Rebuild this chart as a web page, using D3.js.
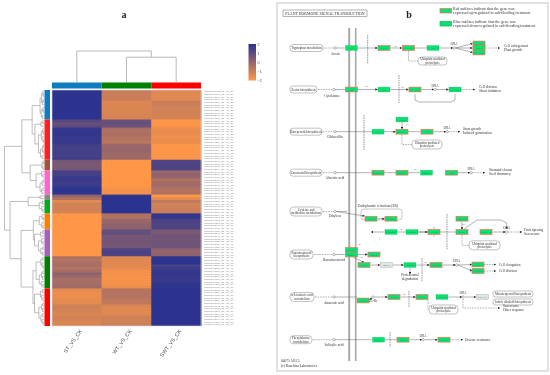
<!DOCTYPE html>
<html>
<head>
<meta charset="utf-8">
<script src="https://cdn.jsdelivr.net/npm/d3@7"></script>
<style>
  html, body { margin: 0; padding: 0; background: #fff; }
  svg { display: block; filter: blur(0.4px); }
</style>
</head>
<body>
<div class="canvas"></div>
<script>
const canvas = d3.select(".canvas");
const svg = canvas.append("svg").attr("width", 550).attr("height", 375);

// ---- panel a: heatmap data ----
const columns = ["ST_VS_CK", "WT_VS_CK", "SWT_VS_CK"];
const columnColors = ["#0e7dc0", "#008000", "#ff0000"];

const stValues = [
  1.95, 1.95, 1.95, 1.95, 1.95, 1.95, 1.95, 1.95, 1.95, 1.95, 1.95,
  1.15, 0.85, 1.0, 1.8, 1.85, 1.85, 1.8, 1.75, 1.8, 1.55, 1.5, 1.5, 1.55, 1.5, 1.6,
  0.6, 0.5, 0.5, 0.6,
  1.5, 1.45, 1.7, 1.75, 1.6, 1.65, 1.9, 1.95, 1.9,
  0.0, -0.5,
  -1.5, -1.1, -1.2, -1.15, -1.2,
  -2, -2, -2, -2, -2, -2,
  -2, -2, -2, -2, -2, -2, -2, -2, -2, -2,
  -0.5, -0.6, -0.4, -0.4, -0.6, -0.3, 0.1, -0.1, -0.4, -0.3, -0.3, -0.2,
  -1.5, -1.6, -1.6, -1.6, -1.5, -1.5, -1.1, -1.1, -1.2, -1.3, -1.2, -1.2, -1.3, -1.3,
];
const wtValues = [
  -0.95, -1, -1, -1, -1.35, -1.35, -1.3, -1.3, -1.3, -1.25, -1.25,
  0.8, 0.85, 0.75, -0.4, -0.5, -0.4, -0.55, -0.6, -0.7, -0.1, -0.1, -0.05, -0.15, -0.2, -0.15,
  -2, -2, -2, -2,
  -2, -2, -2, -2, -2, -2, -1.85, -1.8, -1.8,
  1.9, 1.95,
  2, 2, 2, 2, 2,
  -0.5, -0.55, -0.1, 0, 0.1, 0.1,
  0.9, 0.9, 0.6, 0.6, 0.65, 0.65, 0.6, 1.3, 1.4, 1.3,
  -1.4, -1.4, -1.4, -1.45, -1.5, -1.8, -1.8, -1.85, -1.85, -1.8, -1.8, -1.6,
  -0.6, -0.6, -0.6, -0.65, -0.8, -0.8, -1.3, -1.4, -1.4, -1.4, -1.1, -1.1, -1.1, -1.05,
];
const swtValues = [
  -1.4, -1.4, -1.4, -1.4, -1, -1, -1.15, -1.15, -1.15, -1.2, -1.2,
  -1.95, -1.95, -1.9, -1.65, -1.6, -1.6, -1.7, -1.6, -1.6, -1.95, -1.95, -1.95, -1.9, -1.9, -1.95,
  1.3, 1.35, 1.35, 1.3,
  -0.1, 0.1, 0.0, -0.5, -0.3, -0.2, -0.5, -0.55, -0.5,
  -1.95, -1.5,
  -0.8, -1.1, -1.1, -1.05, -1.0,
  1.85, 1.85, 1.4, 1.35, 1.3, 1.3,
  0.5, 0.5, 0.7, 0.65, 0.7, 0.7, 0.75, 0.1, 0.0, 0.1,
  1.95, 1.95, 1.95, 1.5, 1.65, 1.8, 1.8, 1.8, 1.75, 1.8, 1.9, 1.9,
  1.95, 1.95, 1.95, 1.95, 1.95, 1.95, 1.95, 1.95, 1.95, 1.95, 1.95, 1.95, 1.95, 1.95,
];

const clusterSizes = [11, 15, 4, 9, 2, 5, 6, 10, 12, 14];
const clusterColors = ["#0e7dc0", "#ff2020", "#a0523d", "#ff66cc", "#888888", "#00aa1f", "#ff8000", "#a560c0", "#007f00", "#ff0000"];

const rowIds = ("10432 21877 03391 18264 27750 05123 14698 30215 08846 22910 16573 " +
  "29034 07715 12486 25391 01958 19620 33047 06282 11739 24168 28503 09374 15826 31290 04651 " +
  "20497 13082 26715 02364 17943 32158 07429 23601 10986 29477 05830 18312 12654 " +
  "26091 03947 21538 14270 30862 08195 16724 " +
  "27369 04516 19853 11207 32640 06978 " +
  "24015 13596 28741 01683 17320 22459 09138 31875 05264 15907 " +
  "20736 02849 26183 12370 33512 07056 18691 23924 10345 29608 04172 16458 " +
  "25783 08629 14031 30497 03216 21965 19142 27408 06597 11860 32073 13749 24306 09781").split(" ");

// height 0 is at the leaves, 100 is the root; 0 as a child is one row
const treeBlue = [10, [6, [3, 0, [2, 0, 0]], [4, [2, 0, 0], 0]], [7, [3, 0, [2, 0, 0]], [4, 0, 0]]];
const treeRed = [23, [8, [3, 0, 0], 0], [14, [7, [3, 0, [2, 0, 0]], [5, 0, [2, 0, 0]]], [9, [4, [2, 0, 0], [2, 0, 0]], [5, 0, 0]]]];
const treeBrown = [5, [2, 0, 0], [3, 0, 0]];
const treePink = [20, [6, 0, [3, 0, 0]], [10, [5, [2, 0, 0], 0], [6, [3, 0, 0], 0]]];
const treeGray = [10, 0, 0];
const treeGreen = [12, [4, 0, 0], [6, 0, [3, 0, 0]]];
const treeOrange = [12, [5, 0, [2, 0, 0]], [6, 0, [3, 0, 0]]];
const treePurple = [24, [9, [3, 0, 0], 0], [14, [6, 0, [3, 0, 0]], [8, [3, 0, 0], [4, 0, 0]]]];
const treeDarkGreen = [20, [8, [3, 0, 0], [5, 0, [2, 0, 0]]], [12, [6, [3, 0, 0], [4, 0, 0]], [7, 0, [3, 0, 0]]]];
const treeRed2 = [24, [9, [4, 0, 0], [6, 0, [3, 0, 0]]], [13, [6, [3, 0, 0], [4, 0, 0]], [8, [4, 0, 0], [5, 0, [2, 0, 0]]]]];

const rowTree = [100,
  [56, [30, treeBlue, treeRed], [35, treeBrown, treePink]],
  [86, [40, treeGray, treeGreen], [58, [27, treeOrange, treePurple], [28, treeDarkGreen, treeRed2]]],
];
// 0 = ST, 1 = WT, 2 = SWT
const columnTree = [100, 0, [80, 1, 2]];

const legendTicks = [2, 1, 0, -1, -2];

// ---- panel b: pathway data, all in map units ----
const geneNames = ["AUX1", "TIR1", "AUX/IAA", "ARF", "AUX/IAA", "GH3", "SAUR",
  "CRE1", "AHP", "B-ARR", "A-ARR",
  "GID2", "GID1", "DELLA", "TF",
  "PYR/PYL", "PP2C", "SnRK2", "ABF",
  "ETR", "CTR1", "SIMKK", "MPK6", "EIN2", "EBF1/2", "EIN3", "ERF1/2",
  "BAK1", "BRI1", "BKI1", "BSK", "BSU1", "BIN2", "BZR1/2", "TCH4", "CYCD3",
  "JAR1", "COI1", "JAZ", "MYC2", "ORCA3",
  "NPR1", "TGA", "PR-1"];
const geneX = [74.5, 107, 131.5, 156, 202, 202, 202,
  74.5, 107, 138, 178,
  125, 101, 125, 150,
  101, 125, 149.5, 174.5,
  94, 114, 114, 135, 157, 185, 185, 209,
  74.5, 74.5, 97, 87, 109.5, 133, 159, 201, 201,
  86, 117, 145, 165, 205.5,
  101.5, 126, 167];
const geneY = [45, 45, 45, 45, 40.5, 45, 49.5,
  86.5, 86.5, 86.5, 86.5,
  116.5, 128.7, 128.7, 128.7,
  169.7, 169.7, 169.7, 169.7,
  215.7, 215.7, 229, 229, 229, 215.7, 229, 229,
  247, 251.5, 251.5, 262, 262, 262, 262, 261.5, 268,
  297.5, 294, 294, 294, 294,
  336.7, 336.7, 336.7];
// 1 red outline, 0 plain green, -1 not in the data (white)
const geneState = [0, 1, 1, 0, 1, 1, 1,
  1, 0, 1, 0,
  0, 0, 1, 1,
  1, 1, 0, 1,
  1, 1, 0, 0, 1, 1, 1, 1,
  1, 1, 1, 1, -1, 0, 1, 1, 1,
  1, 1, 1, 0, -1,
  0, 1, 1];

const pillLines = [["Tryptophan metabolism"], ["Zeatin biosynthesis"], ["Diterpenoid biosynthesis"], ["Carotenoid biosynthesis"],
  ["Cysteine and", "methionine metabolism"], ["Brassinosteroid", "biosynthesis"], ["\u03b1-Linolenic acid", "metabolism"], ["Phenylalanine", "metabolism"],
  ["Ubiquitin mediated", "proteolysis"], ["Ubiquitin mediated", "proteolysis"], ["Ubiquitin mediated", "proteolysis"], ["Ubiquitin mediated", "proteolysis"],
  ["Monoterpenoid biosynthesis"], ["Indole alkaloid biosynthesis"]];
const pillLeft = [13, 13, 13, 13, 13, 13, 13, 13, 141, 135, 192, 152, 216, 216];
const pillRight = [45.7, 40, 45, 45, 45, 36, 37, 35, 170, 165, 223, 181, 256, 256];
const pillY = [45, 86.5, 128.7, 169.7, 208.5, 251.5, 294, 336.7, 58, 141.5, 242.3, 306.5, 291, 299];
const pillH = [7, 7, 7, 7, 9, 9, 9, 8, 8, 9, 9, 9, 6, 6];

const compoundX = [58, 57, 58, 58, 58, 57, 57, 57, 96];
const compoundY = [45, 86.5, 128.7, 169.7, 208.5, 251.5, 294, 336.7, 294];
const dnaX = [177, 158, 170, 194, 229.7, 179.7, 186, 146];
const dnaY = [45, 86.5, 128.7, 169.7, 229, 262, 294, 336.7];

const noteText = ["Auxin", "Cytokinine", "Gibberellin", "Abscisic acid", "Ethylene", "Brassinosteroid", "Jasmonic acid", "Salicylic acid",
  "JA-Ile", "Endoplasmic reticulum (ER)", "Proteasomal", "degradation",
  "Cell enlargement", "Plant growth", "Cell division", "Shoot initiation", "Stem growth", "Induced germination",
  "Stomatal closure", "Seed dormancy", "Fruit ripening", "Senescence", "Cell elongation", "Cell division",
  "Senescence", "Other response", "Disease resistance",
  "04075 5/6/15", "(c) Kanehisa Laboratories"];
const noteX = [58, 55, 58, 58, 58, 57, 57, 57, 96, 101, 133, 133,
  227, 227, 202, 202, 186, 186, 212, 212, 247, 247, 222, 222, 226, 226, 188, 4, 4];
const noteY = [52, 94, 135, 176, 214, 258, 301, 343, 299, 204, 273, 277,
  44, 48, 85, 89, 127, 131, 168, 172, 228, 232, 263, 269, 304, 308, 338, 359, 364];
const noteAnchor = ["middle", "middle", "middle", "middle", "middle", "middle", "middle", "middle", "middle", "middle", "middle", "middle",
  "start", "start", "start", "start", "start", "start", "start", "start", "start", "start", "start", "start", "start", "start", "start", "start", "start"];

const signX = [118, 89, 125, 130, 138, 124, 186, 82, 84, 148, 127];
const signY = [44, 84, 85, 122, 167, 227, 222, 242, 255, 260, 292];
const signText = ["+u", "+p", "+p", "+u", "+p", "+p", "+u", "+p", "+p", "+p", "+p"];

const barriers = [[[90.7, 32], [90.7, 61]], [[122, 72], [122, 100]], [[87, 112], [87, 147]], [[170, 211], [170, 247]],
  [[145, 255], [145, 279]], [[132, 288], [132, 304]], [[113, 329], [113, 344]], [[157, 224], [157, 234]]];

const dashedLinks = [[[46, 45], [58, 45]], [[41, 86.5], [57, 86.5]], [[46, 128.7], [58, 128.7]], [[46, 169.7], [58, 169.7]],
  [[46, 208.5], [58, 208.5]], [[37, 251.5], [57, 251.5]], [[38, 294], [57, 294]], [[36, 336.7], [57, 336.7]],
  [[131.5, 48], [131.5, 58], [141, 58]], [[125, 131.5], [125, 141.5], [135, 141.5]],
  [[185, 232], [185, 242.3], [192, 242.3]], [[151, 297], [151, 306.5], [152, 306.5]]];
const dashedArrows = [[[208, 45], [223, 45]], [[184, 86.5], [198, 86.5]], [[171, 128.7], [183, 128.7]],
  [[195, 169.7], [208, 169.7]], [[231, 229], [245, 229]], [[207, 261.5], [219, 261.5]], [[207, 268], [219, 268]],
  [[186, 296], [186, 305], [223, 305]], [[173, 336.7], [186, 336.7]]];
const solidLinks = [[[59, 45], [68, 45]], [[137, 45], [150, 45]], [[58, 86.5], [68, 86.5]], [[59, 128.7], [95, 128.7]],
  [[131, 128.7], [144, 128.7]], [[59, 169.7], [95, 169.7]], [[107, 169.7], [119, 169.7]], [[131, 169.7], [143, 169.7]],
  [[59, 208.5], [70, 208.5]], [[120, 229], [129, 229]], [[141, 229], [151, 229]], [[163, 229], [179, 229]],
  [[58, 251.5], [68, 251.5]], [[58, 294], [80, 294]], [[58, 336.7], [95, 336.7]], [[107, 336.7], [120, 336.7]],
  [[138, 91], [138, 97], [142, 99], [174, 99], [178, 97], [178, 91]], [[103, 236], [102, 236]]];
const solidArrows = [[[81, 45], [100.5, 45]], [[113.5, 45], [125, 45]], [[162, 45], [176, 45]],
  [[178.5, 45], [195.5, 40.5]], [[178.5, 45], [195.5, 45]], [[178.5, 45], [195.5, 49.5]],
  [[81, 86.5], [100.5, 86.5]], [[113.5, 86.5], [131.5, 86.5]], [[144.5, 86.5], [157, 86.5]], [[159, 86.5], [171.5, 86.5]],
  [[107, 128.7], [118.5, 128.7]], [[156.5, 128.7], [169, 128.7]], [[180.5, 169.7], [193, 169.7]],
  [[125, 119], [125, 126]], [[59, 208.5], [87.5, 213]], [[100.5, 215.7], [107.5, 215.7]],
  [[107.5, 229], [94, 229]], [[141.5, 229], [150.5, 229]], [[215.5, 229], [228.5, 229]],
  [[185, 218.5], [185, 226.5]], [[187, 226], [200, 217], [224, 217], [229.7, 220], [229.7, 226]],
  [[81, 251.5], [90.5, 251.5]], [[76, 254], [87, 259.5]], [[93.5, 262], [103, 262]], [[116, 262], [126.5, 262]],
  [[139.5, 262], [152.5, 262]], [[165.5, 262], [178.5, 262]], [[181, 262], [195, 261.5]], [[181, 262], [195, 268]],
  [[133, 264.5], [133, 271]], [[92, 297], [95, 295]], [[97.5, 294], [110.5, 294]], [[123.5, 294], [138.5, 294]],
  [[171.5, 294], [185, 294]], [[187.5, 294], [199, 294]], [[132.5, 336.7], [145, 336.7]], [[147.5, 336.7], [160.5, 336.7]]];

const membranes = [72.2, 78.7];

// ---- scales ----
const rowCount = stValues.length;
const xCol = d3.scaleBand().domain(d3.range(3)).range([52, 201]);
const yRow = d3.scaleBand().domain(d3.range(rowCount)).range([90, 326]);
const heat = d3.scaleLinear().domain([-2, 2]).range(["#ff9747", "#2a3390"]);
const treeX = d3.scaleLinear().domain([0, 100]).range([44, 4.5]);
const treeY = d3.scaleLinear().domain([0, 100]).range([82, 51]);
const mapX = d3.scaleLinear().domain([0, 271]).range([277, 548]);
const mapY = d3.scaleLinear().domain([0, 368]).range([3, 371]);
const mapLine = d3.line().x((d) => mapX(d[0])).y((d) => mapY(d[1]));

const serif = "'Liberation Serif', serif";
const sans = "'Liberation Sans', sans-serif";

svg.append("defs").append("marker")
  .attr("id", "tip")
  .attr("viewBox", "0 0 4 4")
  .attr("refX", 3.6).attr("refY", 2)
  .attr("markerWidth", 2.4).attr("markerHeight", 2.4)
  .attr("markerUnits", "userSpaceOnUse")
  .attr("orient", "auto")
  .append("path").attr("d", "M0,0L4,2L0,4Z").attr("fill", "#222");

const grad = svg.select("defs").append("linearGradient")
  .attr("id", "legendFill").attr("x1", 0).attr("x2", 0).attr("y1", 0).attr("y2", 1);
grad.selectAll("stop").data(legendTicks).enter().append("stop")
  .attr("offset", (d, i) => i / (legendTicks.length - 1))
  .attr("stop-color", (d) => heat(d));

// ---- panel a ----
const series = [stValues, wtValues, swtValues];
const cells = [];
series.forEach((vals, c) => vals.forEach((v, r) => cells.push({ c, r, v })));

const heatGroup = svg.append("g");
// cells overlap the next row a little so no white seams show
heatGroup.selectAll("rect.cell").data(cells).enter().append("rect")
  .attr("class", "cell")
  .attr("x", (d) => xCol(d.c))
  .attr("y", (d) => yRow(d.r))
  .attr("width", xCol.bandwidth() + (0.5))
  .attr("height", (d) => yRow.bandwidth() + (d.r < rowCount - 1 ? 1 : 0))
  .attr("fill", (d) => heat(d.v));

heatGroup.append("rect")
  .attr("x", 52).attr("y", 90).attr("width", 149).attr("height", 236)
  .attr("fill", "none").attr("stroke", "#d5d5e5").attr("stroke-width", 0.6);

// column colour bar
svg.selectAll("rect.colbar").data(columns).enter().append("rect")
  .attr("class", "colbar")
  .attr("x", (d, i) => xCol(i))
  .attr("y", 82.5)
  .attr("width", xCol.bandwidth())
  .attr("height", 6)
  .attr("fill", (d, i) => columnColors[i]);

// row cluster bar
let rowStart = 0;
clusterSizes.forEach((n, i) => {
  svg.append("rect")
    .attr("x", 44.5).attr("y", yRow(rowStart))
    .attr("width", 5.5).attr("height", n * yRow.step())
    .attr("fill", clusterColors[i]);
  rowStart += n;
});

// row labels
svg.append("g").selectAll("text").data(rowIds).enter().append("text")
  .attr("x", 204)
  .attr("y", (d, i) => yRow(i) + yRow.bandwidth() / 2)
  .attr("dy", "0.35em")
  .attr("font-family", sans)
  .attr("font-size", 2.4)
  .attr("fill", "#888")
  .text((d) => "MSTRG." + d + "_ST_VS_CK");

// row dendrogram from the nested tree
const treeGroup = svg.append("g").attr("fill", "none").attr("stroke", "#a0a0a0").attr("stroke-width", 0.7);
let leafIndex = 0;
let drawRowNode = (node) => {
  if (node === 0) {
    const y = yRow(leafIndex) + yRow.bandwidth() / 2;
    leafIndex++;
    return { x: treeX(0), y };
  }
  const a = drawRowNode(node[1]);
  const b = drawRowNode(node[2]);
  const x = treeX(node[0]);
  treeGroup.append("path").attr("d", `M${a.x},${a.y}H${x}V${b.y}H${b.x}`);
  return { x, y: (a.y + b.y) / 2 };
};
const rootNode = drawRowNode(rowTree);

// column dendrogram
const colTreeGroup = svg.append("g").attr("fill", "none").attr("stroke", "#a8a8a8").attr("stroke-width", 0.8);
let drawColNode = (node) => {
  if (typeof node === "number") return { x: xCol(node) + xCol.bandwidth() / 2, y: treeY(0) };
  const a = drawColNode(node[1]);
  const b = drawColNode(node[2]);
  const y = treeY(node[0]);
  colTreeGroup.append("path").attr("d", `M${a.x},${a.y}V${y}H${b.x}V${b.y}`);
  return { x: (a.x + b.x) / 2, y };
};
drawColNode(columnTree);

// column labels
svg.selectAll("text.collab").data(columns).enter().append("text")
  .attr("class", "collab")
  .attr("transform", (d, i) => `translate(${xCol(i) + xCol.bandwidth() / 2 + 4},330) rotate(-54)`)
  .attr("text-anchor", "end")
  .attr("dy", "0.35em")
  .attr("font-family", sans)
  .attr("font-size", 5.4)
  .attr("fill", "#555")
  .text((d) => d);

// colour legend
const yLegend = d3.scaleLinear().domain([2, -2]).range([44, 80.5]);
svg.append("rect")
  .attr("x", 248.5).attr("y", 44).attr("width", 7.5).attr("height", 36.5)
  .attr("fill", "url(#legendFill)");
const legendAxis = svg.append("g")
  .attr("transform", "translate(256,0)")
  .call(d3.axisRight(yLegend).tickValues(legendTicks).tickSize(0).tickPadding(1.5).tickFormat(d3.format("d")));
legendAxis.select(".domain").remove();
legendAxis.selectAll("text")
  .attr("font-family", sans).attr("font-size", 3.8).attr("fill", "#555");

// panel letters
svg.append("text").attr("x", 124).attr("y", 18).attr("text-anchor", "middle")
  .attr("font-family", serif).attr("font-size", 10).attr("font-weight", "bold").attr("fill", "#222").text("a");
svg.append("text").attr("x", 409).attr("y", 18).attr("text-anchor", "middle")
  .attr("font-family", serif).attr("font-size", 10).attr("font-weight", "bold").attr("fill", "#222").text("b");

// ---- panel b ----
const mapGroup = svg.append("g");

mapGroup.append("rect")
  .attr("x", mapX(0)).attr("y", mapY(0)).attr("width", 271).attr("height", 368)
  .attr("fill", "none").attr("stroke", "#cfcfcf").attr("stroke-width", 1.2);

// title box
mapGroup.append("rect")
  .attr("x", mapX(6)).attr("y", mapY(7)).attr("width", 84).attr("height", 6.5)
  .attr("fill", "#fff").attr("stroke", "#666").attr("stroke-width", 0.5);
mapGroup.append("text")
  .attr("x", mapX(48)).attr("y", mapY(11.6)).attr("text-anchor", "middle")
  .attr("font-family", serif).attr("font-size", 3.9).attr("fill", "#333")
  .text("PLANT HORMONE SIGNAL TRANSDUCTION");

// double membrane lines
mapGroup.selectAll("line.membrane").data(membranes).enter().append("line")
  .attr("class", "membrane")
  .attr("x1", (d) => mapX(d)).attr("x2", (d) => mapX(d))
  .attr("y1", mapY(25)).attr("y2", mapY(358))
  .attr("stroke", "#a9a9a9").attr("stroke-width", (d, i) => (i == 0 ? 2 : 1.6));

// dashed separators
mapGroup.selectAll("path.barrier").data(barriers).enter().append("path")
  .attr("class", "barrier")
  .attr("d", mapLine).attr("fill", "none")
  .attr("stroke", "#999").attr("stroke-width", 1).attr("stroke-dasharray", "1.6 0.8");

// ER box
mapGroup.append("rect")
  .attr("x", mapX(84)).attr("y", mapY(206)).attr("width", 41).attr("height", 11).attr("rx", 3)
  .attr("fill", "none").attr("stroke", "#777").attr("stroke-width", 0.4);

let drawLinks = (data, dashed, arrow) => {
  mapGroup.append("g").selectAll("path").data(data).enter().append("path")
    .attr("d", mapLine)
    .attr("fill", "none")
    .attr("stroke", "#555")
    .attr("stroke-width", 0.45)
    .attr("stroke-dasharray", dashed ? "1.6 1" : null)
    .attr("marker-end", arrow ? "url(#tip)" : null);
};
drawLinks(dashedLinks, true, false);
drawLinks(dashedArrows, true, true);
drawLinks(solidLinks, false, false);
drawLinks(solidArrows, false, true);

// pills
pillLines.forEach((lines, i) => {
  mapGroup.append("rect")
    .attr("x", mapX(pillLeft[i])).attr("y", mapY(pillY[i] - pillH[i] / 2))
    .attr("width", pillRight[i] - pillLeft[i]).attr("height", pillH[i]).attr("rx", pillH[i] / 2.4)
    .attr("fill", "#fff").attr("stroke", "#777").attr("stroke-width", 0.45);
  lines.forEach((t, j) => {
    mapGroup.append("text")
      .attr("x", mapX((pillLeft[i] + pillRight[i]) / 2))
      .attr("y", mapY(pillY[i] + (j - (lines.length - 1) / 2) * 3.4))
      .attr("dy", "0.35em").attr("text-anchor", "middle")
      .attr("font-family", serif).attr("font-size", 3.2).attr("fill", "#333").text(t);
  });
});

// compounds and DNA
mapGroup.selectAll("circle.cpd").data(compoundX).enter().append("circle")
  .attr("class", "cpd")
  .attr("cx", (d) => mapX(d)).attr("cy", (d, i) => mapY(compoundY[i])).attr("r", 1.2)
  .attr("fill", "#fff").attr("stroke", "#555").attr("stroke-width", 0.4);
mapGroup.selectAll("circle.dna").data(dnaX).enter().append("circle")
  .attr("class", "dna")
  .attr("cx", (d) => mapX(d)).attr("cy", (d, i) => mapY(dnaY[i])).attr("r", 1.2)
  .attr("fill", "#fff").attr("stroke", "#555").attr("stroke-width", 0.4);
mapGroup.selectAll("text.dnalab").data(dnaX).enter().append("text")
  .attr("class", "dnalab")
  .attr("x", (d) => mapX(d)).attr("y", (d, i) => mapY(dnaY[i] - 2.8)).attr("text-anchor", "middle")
  .attr("font-family", serif).attr("font-size", 3.2).attr("fill", "#333").text("DNA");

// genes
const geneGroup = mapGroup.append("g");
geneGroup.selectAll("rect").data(geneNames).enter().append("rect")
  .attr("x", (d, i) => mapX(geneX[i] - 6)).attr("y", (d, i) => mapY(geneY[i] - 2.4))
  .attr("width", 12).attr("height", 4.8)
  .attr("fill", (d, i) => (geneState[i] < 0 ? "#e4e4e4" : "#08e070"))
  .attr("stroke", (d, i) => (geneState[i] > 0 ? "#f2735a" : geneState[i] < 0 ? "#888" : "#0bb860"))
  .attr("stroke-width", (d, i) => (geneState[i] > 0 ? 0.7 : 0.3));
geneGroup.selectAll("text").data(geneNames).enter().append("text")
  .attr("x", (d, i) => mapX(geneX[i])).attr("y", (d, i) => mapY(geneY[i]))
  .attr("dy", "0.35em").attr("text-anchor", "middle")
  .attr("font-family", serif).attr("font-size", 2.9).attr("fill", "#2a8a50").text((d) => d);

// notes
mapGroup.selectAll("text.note").data(noteText).enter().append("text")
  .attr("class", "note")
  .attr("x", (d, i) => mapX(noteX[i])).attr("y", (d, i) => mapY(noteY[i]))
  .attr("text-anchor", (d, i) => noteAnchor[i])
  .attr("font-family", serif).attr("font-size", 3.5).attr("fill", "#333").text((d) => d);
mapGroup.selectAll("text.sign").data(signText).enter().append("text")
  .attr("class", "sign")
  .attr("x", (d, i) => mapX(signX[i])).attr("y", (d, i) => mapY(signY[i]))
  .attr("text-anchor", "middle")
  .attr("font-family", serif).attr("font-size", 2.8).attr("fill", "#333").text((d) => d);

// legend top right of the map
const keyY = [5, 18];
const keyStroke = ["#f2735a", "#0bb860"];
const keyLines = [["Red outlines indicate that the gene was", "expressed up-regulated in salt-flooding treatment"],
  ["Blue outlines indicate that the gene was", "expressed down-regulated in salt-flooding treatment"]];
keyY.forEach((y, i) => {
  mapGroup.append("rect")
    .attr("x", mapX(163)).attr("y", mapY(y + 0.5)).attr("width", 11.5).attr("height", 4.5)
    .attr("fill", "#08e070").attr("stroke", keyStroke[i]).attr("stroke-width", 0.7);
  keyLines[i].forEach((t, j) => {
    mapGroup.append("text")
      .attr("x", mapX(176)).attr("y", mapY(y + 2 + j * 4.4))
      .attr("font-family", serif).attr("font-size", 3.95).attr("fill", "#333").text(t);
  });
});
</script>
</body>
</html>
